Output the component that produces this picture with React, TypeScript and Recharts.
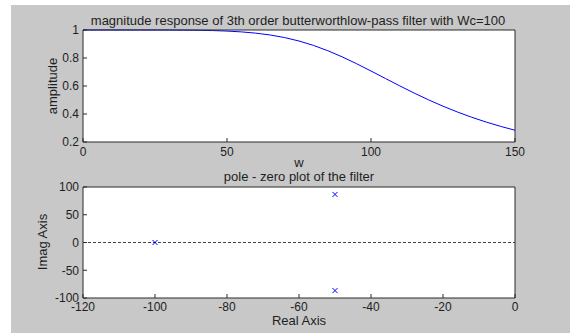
import React from "react";
import {
  CartesianGrid,
  Line,
  LineChart,
  ReferenceLine,
  Scatter,
  ScatterChart,
  XAxis,
  YAxis,
} from "recharts";

// magnitude response
const FREQ = [
  0, 5, 10, 15, 20, 25, 30, 35, 40, 45, 50, 55, 60, 65, 70, 75, 80, 85, 90, 95,
  100, 105, 110, 115, 120, 125, 130, 135, 140, 145, 150,
];
const AMPLITUDE = [
  1, 1, 1, 1, 1, 1, 0.9996, 0.9991, 0.998, 0.9959, 0.9923, 0.9864, 0.9775,
  0.9643, 0.9459, 0.9214, 0.8901, 0.8521, 0.8081, 0.7592, 0.7071, 0.6537,
  0.6007, 0.5494, 0.5009, 0.4557, 0.4143, 0.3765, 0.3424, 0.3117, 0.2841,
];

// poles of the filter
const POLE_RE = [-100, -50, -50];
const POLE_IM = [0, 86.6, -86.6];

const MAG_X_TICKS = [0, 50, 100, 150];
const MAG_Y_TICKS = [0.2, 0.4, 0.6, 0.8, 1];
const PZ_X_TICKS = [-120, -100, -80, -60, -40, -20, 0];
const PZ_Y_TICKS = [-100, -50, 0, 50, 100];

const FONT = "'Liberation Sans', Arial, Helvetica, sans-serif";
const AXIS = "#2a2a2a";
const TEXT = "#1e1e1e";

const tickStyle = { fill: TEXT, fontSize: 12, fontFamily: FONT };

const magData = FREQ.map((w, i) => ({ w, amp: AMPLITUDE[i] }));
const poles = POLE_RE.map((re, i) => ({ re, im: POLE_IM[i] }));

const Cross = (props: any) => {
  const { cx, cy } = props;
  const s = 2.5;
  return (
    <g stroke="#0000ff" strokeWidth={1}>
      <line x1={cx - s} y1={cy - s} x2={cx + s} y2={cy + s} />
      <line x1={cx - s} y1={cy + s} x2={cx + s} y2={cy - s} />
    </g>
  );
};

function Txt({
  x,
  y,
  text,
  rotate,
}: {
  x: number;
  y: number;
  text: string;
  rotate?: boolean;
}) {
  return (
    <div
      style={{
        position: "absolute",
        left: x,
        top: y,
        transform: `translate(-50%, -50%)${rotate ? " rotate(-90deg)" : ""}`,
        whiteSpace: "nowrap",
        fontFamily: FONT,
        fontSize: 13,
        color: TEXT,
        lineHeight: 1,
      }}
    >
      {text}
    </div>
  );
}

export default function App() {
  return (
    <div
      style={{
        position: "absolute",
        left: 0,
        top: 0,
        width: 570,
        height: 333,
        background: "#fff",
        overflow: "hidden",
      }}
    >
      <div
        style={{
          position: "absolute",
          left: 11,
          top: 5,
          width: 559,
          height: 328,
          background: "#c8c8c8",
        }}
      />

      <div style={{ position: "absolute", left: 0, top: 0 }}>
        <LineChart
          width={570}
          height={170}
          data={magData}
          margin={{ top: 0, right: 0, bottom: 8, left: 43 }}
        >
          <CartesianGrid
            fill="#fff"
            stroke="none"
            horizontal={false}
            vertical={false}
          />
          <XAxis
            dataKey="w"
            type="number"
            domain={[0, 150]}
            ticks={MAG_X_TICKS}
            height={20}
            stroke={AXIS}
            tickSize={-4}
            tickMargin={9}
            tick={tickStyle}
          />
          <XAxis
            xAxisId="top"
            orientation="top"
            type="number"
            domain={[0, 150]}
            ticks={MAG_X_TICKS}
            height={30}
            stroke={AXIS}
            tickSize={-4}
            tick={false}
          />
          <YAxis
            type="number"
            domain={[0.2, 1]}
            ticks={MAG_Y_TICKS}
            width={40}
            stroke={AXIS}
            tickSize={-4}
            tickMargin={8}
            tick={tickStyle}
            tickFormatter={(v) => String(v)}
          />
          <YAxis
            yAxisId="right"
            orientation="right"
            type="number"
            domain={[0.2, 1]}
            ticks={MAG_Y_TICKS}
            width={55}
            stroke={AXIS}
            tickSize={-4}
            tick={false}
          />
          <Line
            dataKey="amp"
            type="linear"
            stroke="#0000ff"
            strokeWidth={1}
            dot={false}
            isAnimationActive={false}
          />
        </LineChart>
      </div>

      <div style={{ position: "absolute", left: 0, top: 170 }}>
        <ScatterChart
          width={570}
          height={163}
          margin={{ top: 0, right: 0, bottom: 15, left: 43 }}
        >
          <CartesianGrid
            fill="#fff"
            stroke="none"
            horizontal={false}
            vertical={false}
          />
          <XAxis
            dataKey="re"
            type="number"
            domain={[-120, 0]}
            ticks={PZ_X_TICKS}
            height={20}
            stroke={AXIS}
            tickSize={-4}
            tickMargin={8}
            tick={tickStyle}
          />
          <XAxis
            xAxisId="top"
            orientation="top"
            type="number"
            domain={[-120, 0]}
            ticks={PZ_X_TICKS}
            height={17}
            stroke={AXIS}
            tickSize={-4}
            tick={false}
          />
          <YAxis
            dataKey="im"
            type="number"
            domain={[-100, 100]}
            ticks={PZ_Y_TICKS}
            width={40}
            stroke={AXIS}
            tickSize={-4}
            tickMargin={8}
            tick={tickStyle}
          />
          <YAxis
            yAxisId="right"
            orientation="right"
            type="number"
            domain={[-100, 100]}
            ticks={PZ_Y_TICKS}
            width={55}
            stroke={AXIS}
            tickSize={-4}
            tick={false}
          />
          <ReferenceLine
            y={0}
            stroke="#444"
            strokeDasharray="3 2"
            ifOverflow="extendDomain"
          />
          <Scatter
            data={poles}
            shape={Cross}
            isAnimationActive={false}
          />
        </ScatterChart>
      </div>

      <Txt
        x={298}
        y={20}
        text="magnitude response of 3th order butterworthlow-pass filter with Wc=100"
      />
      <Txt x={52} y={86} text="amplitude" rotate />
      <Txt x={299} y={162} text="w" />
      <Txt x={299} y={176} text="pole - zero plot of the filter" />
      <Txt x={42} y={242} text="Imag Axis" rotate />
      <Txt x={299} y={320} text="Real Axis" />
    </div>
  );
}
